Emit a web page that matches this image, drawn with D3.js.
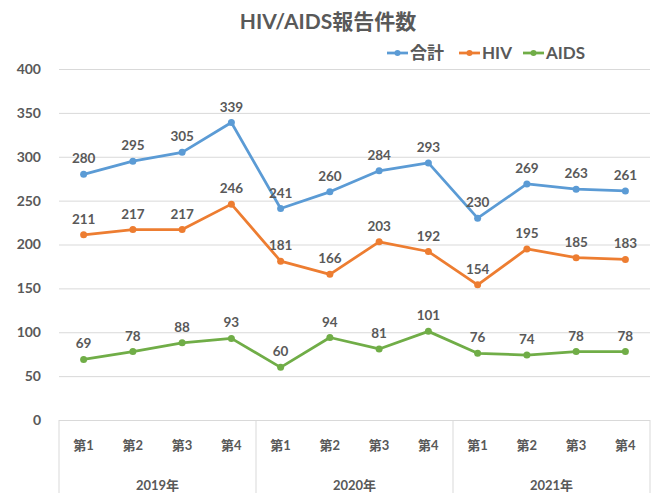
<!DOCTYPE html>
<html><head><meta charset="utf-8">
<script src="https://cdn.jsdelivr.net/npm/d3@7"></script>
<style>
body{margin:0;background:#fff;}
text{font-family:"Lato","Noto Sans CJK JP",sans-serif;font-weight:bold;fill:#595959;}
</style></head>
<body><svg id="c" width="659" height="493"></svg>
<script>
const quarters = ["第1","第2","第3","第4","第1","第2","第3","第4","第1","第2","第3","第4"];
const years = ["2019年","2020年","2021年"];
const seriesNames = ["合計","HIV","AIDS"];
const totalVals = [280,295,305,339,241,260,284,293,230,269,263,261];
const hivVals = [211,217,217,246,181,166,203,192,154,195,185,183];
const aidsVals = [69,78,88,93,60,94,81,101,76,74,78,78];
const yTicks = [0,50,100,150,200,250,300,350,400];
const colors = ["#5B9BD5","#ED7D31","#70AD47"];

const svg = d3.select("#c");
const L = 59, R = 650, T = 69, B = 420;
const keys = quarters.map((q,i)=>i);
const x = d3.scaleBand().domain(keys).range([L,R]);
const y = d3.scaleLinear().domain([0,400]).range([B,T]);

// gridlines + y labels
const ya = svg.append("g").attr("transform",`translate(${L},0)`)
  .call(d3.axisLeft(y).tickValues(yTicks).tickSize(-(R-L)).tickPadding(18));
ya.select(".domain").remove();
ya.selectAll(".tick line").attr("stroke","#D9D9D9").attr("stroke-width",1);
ya.selectAll(".tick text").style("font-size","14px").attr("fill","#595959");

// category box
const bx = svg.append("g");
const bandW = x.bandwidth();
const sepX = [0,4,8,12].map(i=> i<12 ? x(i) : x(11)+bandW);
bx.selectAll("line.sep").data(sepX).enter().append("line")
  .attr("x1",d=>d).attr("x2",d=>d).attr("y1",B).attr("y2",493)
  .attr("stroke","#D9D9D9").attr("stroke-width",1);
bx.selectAll("text.q").data(quarters).enter().append("text")
  .attr("x",(d,i)=>x(i)+bandW/2).attr("y",450).attr("text-anchor","middle")
  .style("font-size","13px").text(d=>d);
bx.selectAll("text.yr").data(years).enter().append("text")
  .attr("x",(d,i)=>(sepX[i]+sepX[i+1])/2).attr("y",490).attr("text-anchor","middle")
  .style("font-size","13px").text(d=>d);

// series
const series = [totalVals,hivVals,aidsVals];
const line = d3.line().x((d,i)=>x(i)+bandW/2).y(d=>y(d));
series.forEach((vals,si)=>{
  const g = svg.append("g");
  g.append("path").datum(vals).attr("d",line).attr("fill","none")
    .attr("stroke",colors[si]).attr("stroke-width",2.75).attr("stroke-linejoin","round");
  g.selectAll("circle").data(vals).enter().append("circle")
    .attr("cx",(d,i)=>x(i)+bandW/2).attr("cy",d=>y(d)).attr("r",3.5).attr("fill",colors[si]);
  g.selectAll("text").data(vals).enter().append("text")
    .attr("x",(d,i)=>x(i)+bandW/2).attr("y",d=>y(d)-11).attr("text-anchor","middle")
    .style("font-size","13.5px").text(d=>d);
});

// title
svg.append("text").attr("x",328).attr("y",29).attr("text-anchor","middle")
  .style("font-size","21px").text("HIV/AIDS報告件数");

// legend
const legX = [387,459,523];
const lg = svg.append("g");
seriesNames.forEach((n,i)=>{
  lg.append("line").attr("x1",legX[i]).attr("x2",legX[i]+21).attr("y1",53).attr("y2",53)
    .attr("stroke",colors[i]).attr("stroke-width",2.75);
  lg.append("circle").attr("cx",legX[i]+10.5).attr("cy",53).attr("r",3).attr("fill",colors[i]);
  lg.append("text").attr("x",legX[i]+23).attr("y",59).style("font-size","17px").text(n);
});
</script></body></html>
